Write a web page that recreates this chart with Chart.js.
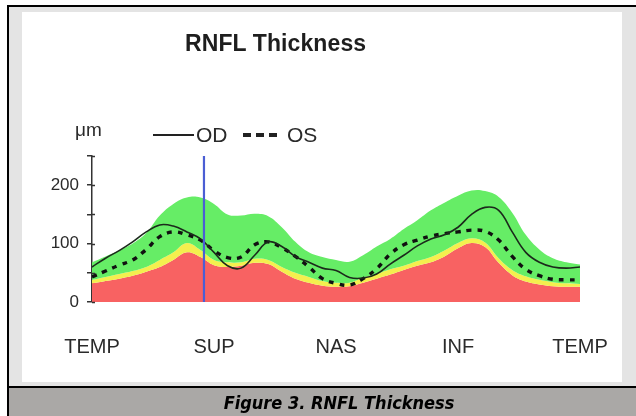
<!DOCTYPE html>
<html>
<head>
<meta charset="utf-8">
<script src="https://cdn.jsdelivr.net/npm/chart.js@4/dist/chart.umd.min.js"></script>
<style>
  html, body { margin:0; padding:0; background:#ffffff; }
  #wrap { position:relative; width:636px; height:416px; overflow:hidden; font-family:"Liberation Sans", Arial, sans-serif; }
  .abs { position:absolute; }
  #frame { left:7px; top:5px; width:627px; height:411px; border-left:2px solid #000; border-top:2px solid #000; background:#e4e4e4; }
  #panel { left:22px; top:12px; width:600px; height:370px; background:#ffffff; }
  #sep { left:7px; top:386px; width:629px; height:2px; background:#000; }
  #capbar { left:9px; top:388px; width:627px; height:28px; background:#aaa8a6; }
  #c { position:absolute; left:0; top:0; }
  #title { left:185px; top:32px; font-weight:bold; font-size:23px; line-height:23px; letter-spacing:0.1px; color:#1e1e1e; white-space:nowrap; }
  #unit { left:75px; top:120px; font-size:19px; line-height:19px; color:#2a2a2a; }
  .leg { top:124px; font-size:21px; line-height:21px; color:#2a2a2a; }
  .ln { background:#222; }
  #caption { left:0px; width:636px; padding-left:42px; box-sizing:border-box; text-align:center; top:393px; font-family:"DejaVu Sans Condensed","DejaVu Sans",sans-serif; font-stretch:condensed; font-weight:bold; font-style:italic; font-size:18px; line-height:20px; color:#000; white-space:nowrap; }
</style>
</head>
<body>
<div id="wrap">
  <div id="frame" class="abs"></div>
  <div id="panel" class="abs"></div>
  <div id="sep" class="abs"></div>
  <div id="capbar" class="abs"></div>
  <canvas id="c" width="636" height="416"></canvas>
  <div id="title" class="abs">RNFL Thickness</div>
  <div id="unit" class="abs">μm</div>
  <div class="abs ln" style="left:153px;top:134px;width:41px;height:2px;"></div>
  <div class="abs leg" style="left:196px;">OD</div>
  <div class="abs ln" style="left:243px;top:133px;width:8px;height:4px;"></div>
  <div class="abs ln" style="left:256px;top:133px;width:8px;height:4px;"></div>
  <div class="abs ln" style="left:269px;top:133px;width:8px;height:4px;"></div>
  <div class="abs leg" style="left:287px;">OS</div>
  <div id="caption" class="abs">Figure 3. RNFL Thickness</div>
</div>
<script>
// ---- data ----
const degrees = [0,10,20,30,40,50,60,70,80,90,100,110,120,130,140,150,160,170,180,190,200,210,220,230,240,250,260,270,280,290,300,310,320,330,340,350,360];
const greenUpper = [68,78,88,100,118,148,168,179,179,168,150,148,151,147,128,103,85,77,72,69,80,95,108,125,140,157,170,182,191,190,180,153,115,90,75,68,64];
const yellowUpper = [38,43,48,53,60,72,85,101,89,72,68,68,74,72,60,50,43,36,33,33,42,48,56,62,70,77,88,101,109,102,75,55,44,38,34,32,31];
const redUpper = [32,36,40,45,52,60,72,85,77,63,60,62,67,65,52,40,33,28,26,27,33,40,47,55,62,68,78,92,101,94,67,46,35,30,27,26,26];
const odValues = [60,75,88,103,120,132,130,120,108,85,62,58,80,103,95,78,68,58,54,42,41,48,65,80,96,108,115,128,150,162,157,120,85,68,60,58,60];
const osValues = [43,53,63,72,90,112,120,115,106,88,76,77,98,103,93,78,60,40,32,29,40,57,82,98,106,113,117,120,123,121,106,78,56,45,39,38,38];
const xTickLabels = ['TEMP','SUP','NAS','INF','TEMP'];
const xTickValues = [0,90,180,270,360];
const yLabelledTicks = [0,100,200];
const markerDegree = 82.6;

const pts = arr => degrees.map((d,i) => ({x:d, y:arr[i]}));
const band = (arr, color, fill) => ({
  data: pts(arr), fill: fill, backgroundColor: color, borderColor: 'rgba(0,0,0,0)',
  borderWidth: 1, pointRadius: 0, tension: 0.4, order: 3
});

const crossTicks = {
  id: 'crossTicks',
  afterDraw(chart) {
    const y = chart.scales.y, ctx = chart.ctx;
    ctx.save();
    ctx.strokeStyle = '#333'; ctx.lineWidth = 1.5;
    y.ticks.forEach(t => {
      const py = Math.round(y.getPixelForValue(t.value)) + 0.5;
      ctx.beginPath(); ctx.moveTo(y.right, py); ctx.lineTo(y.right + 3, py); ctx.stroke();
    });
    ctx.restore();
  }
};

new Chart(document.getElementById('c'), {
  type: 'line',
  data: {
    datasets: [
      band(greenUpper, '#66ed66', 1),
      band(yellowUpper, '#f4ef4e', 2),
      band(redUpper, '#f86262', 'origin'),
      { data: pts(odValues), fill: false, borderColor: '#1c2a1c', borderWidth: 1.6, pointRadius: 0, tension: 0.4, order: 1 },
      { data: pts(osValues), fill: false, borderColor: '#111111', borderWidth: 3.4, borderDash: [5,6], pointRadius: 0, tension: 0.4, order: 1 },
      { data: [{x: markerDegree, y: 0}, {x: markerDegree, y: 250}], fill: false, borderColor: '#4b5ed4', borderWidth: 2.2, pointRadius: 0, tension: 0, order: 0 }
    ]
  },
  options: {
    responsive: false,
    devicePixelRatio: 1,
    animation: false,
    events: [],
    layout: { padding: { left: 0, right: 56, top: 156, bottom: 0 } },
    plugins: { legend: { display: false }, tooltip: { enabled: false }, title: { display: false } },
    scales: {
      x: {
        type: 'linear', min: 0, max: 360,
        afterFit: s => { s.height = 114; },
        afterBuildTicks: s => { s.ticks = xTickValues.map(v => ({value: v})); },
        grid: { display: false },
        border: { display: false },
        ticks: {
          autoSkip: false, maxRotation: 0, padding: 25,
          color: '#2a2a2a', font: { family: 'Liberation Sans', size: 20 },
          callback: v => xTickLabels[xTickValues.indexOf(v)]
        }
      },
      y: {
        min: 0, max: 250,
        afterFit: s => { s.width = 92; },
        grid: { display: true, drawOnChartArea: false, drawTicks: true, tickLength: 5, color: '#333', lineWidth: 1.5 },
        border: { display: true, color: '#333', width: 1.5 },
        ticks: {
          stepSize: 50, padding: 8,
          color: '#2a2a2a', font: { family: 'Liberation Sans', size: 17 },
          callback: v => yLabelledTicks.includes(v) ? String(v) : ''
        }
      }
    }
  },
  plugins: [crossTicks]
});
</script>
</body>
</html>
